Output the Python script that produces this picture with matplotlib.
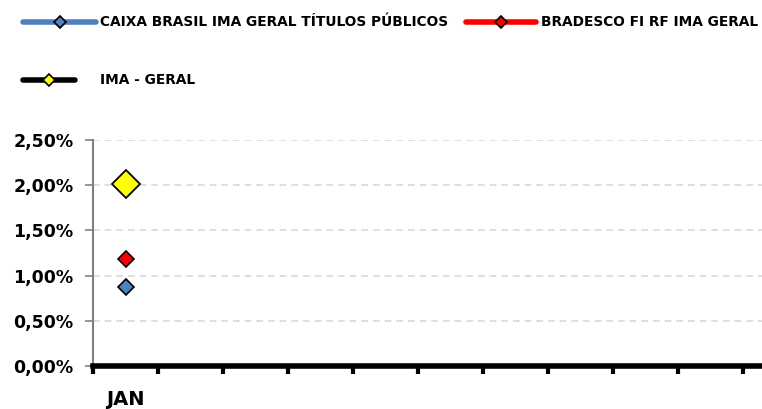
import matplotlib
matplotlib.use("Agg")
import matplotlib.pyplot as plt
from matplotlib.lines import Line2D
import numpy as np

plt.rcParams['font.family'] = ['DejaVu Sans']

categories = ['JAN']
caixa = [0.877]
bradesco = [1.18]
ima_geral = [2.013]
series_names = ['CAIXA BRASIL IMA GERAL TÍTULOS PÚBLICOS', 'BRADESCO FI RF IMA GERAL', 'IMA - GERAL']
yticks = [0.0, 0.5, 1.0, 1.5, 2.0, 2.5]
ytick_labels = ['0,00%', '0,50%', '1,00%', '1,50%', '2,00%', '2,50%']

W, H = 762, 409
fig = plt.figure(figsize=(W/100, H/100), dpi=100)
ax = fig.add_axes([93/W, 1-366/H, (W-93)/W, (366-140)/H])

x = np.arange(len(categories))
ax.plot(x, caixa, color='#4F81BD', lw=3.5, marker='D', ms=8, mfc='#4F81BD', mec='black', mew=1.2, zorder=3)
ax.plot(x, bradesco, color='#FF0000', lw=3.5, marker='D', ms=8, mfc='#FF0000', mec='black', mew=1.2, zorder=3)
ax.plot(x, ima_geral, color='black', lw=3.5, marker='D', ms=14, mfc='#FFFF00', mec='black', mew=1.3, zorder=3)

ax.set_yticks(yticks)
ax.set_yticklabels(ytick_labels, fontsize=12.5, fontweight='bold')
ax.set_xticks(x)
ax.set_xticklabels(categories, fontsize=14, fontweight='bold')
ax.set_xticks(np.arange(-0.5, 11.6, 1), minor=True)
ax.set_xlim(-0.5, -0.5 + (W-93)/65)
ax.set_ylim(0, 2.5)
ax.tick_params(axis='x', which='major', length=0, pad=17)
ax.tick_params(axis='x', which='minor', length=6, width=3, color='black')
ax.tick_params(axis='y', length=6, width=1.2, color='#808080', pad=8)

for s in ['top', 'right']:
    ax.spines[s].set_visible(False)
ax.spines['left'].set_color('#808080')
ax.spines['left'].set_linewidth(1.5)
ax.spines['bottom'].set_color('black')
ax.spines['bottom'].set_linewidth(4)
ax.spines['bottom'].set_zorder(4)

ax.yaxis.grid(True, color='#D9D9D9', linestyle=(0, (4, 3)), lw=1.2)
ax.set_axisbelow(True)

# legend drawn manually
def leg(x0, x1, y, color, mfc, ms, tx, label):
    yf = 1 - y/H
    fig.lines.append(Line2D([x0/W, x1/W], [yf, yf], transform=fig.transFigure, color=color, lw=4, solid_capstyle='round'))
    fig.lines.append(Line2D([(x0+x1)/2/W], [yf], transform=fig.transFigure, marker='D', ms=ms, mfc=mfc, mec='black', mew=1.2, lw=0))
    fig.text(tx/W, yf, label, fontsize=9.9, fontweight='bold', va='center', ha='left')

leg(23, 96, 22, '#4F81BD', '#4F81BD', 6.5, 100, series_names[0])
leg(466, 536, 22, '#FF0000', '#FF0000', 6.5, 541, series_names[1])
leg(23, 75, 80, 'black', '#FFFF00', 6.5, 100, series_names[2])

fig.savefig('out.png', dpi=100)
